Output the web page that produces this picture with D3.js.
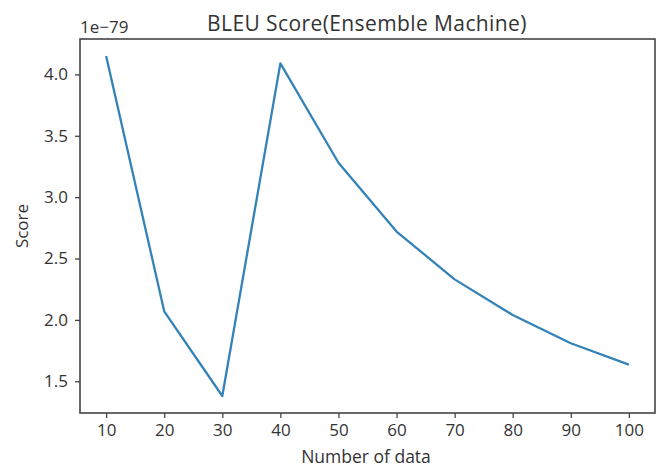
<!DOCTYPE html>
<html>
<head>
<meta charset="utf-8">
<script src="https://cdn.jsdelivr.net/npm/d3@7"></script>
<style>
  body { margin: 0; background: #fff; }
  text { font-family: "Open Sans", "Noto Sans", sans-serif; fill: #333; }
</style>
</head>
<body>
<div class="chart"></div>
<script>
var numData = [10, 20, 30, 40, 50, 60, 70, 80, 90, 100];
var scores = [4.15, 2.07, 1.38, 4.09, 3.28, 2.72, 2.33, 2.04, 1.81, 1.635]; // x 1e-79
var xTicks = [10, 20, 30, 40, 50, 60, 70, 80, 90, 100];
var yTicks = [1.5, 2.0, 2.5, 3.0, 3.5, 4.0];

var width = 661, height = 468;
var margin = { "top": 39, "bottom": 55, "right": 6, "left": 80 };

var svg = d3.select("div.chart").append("svg").attr("width", width).attr("height", height);

// matplotlib style 5% margins
var xPad = (d3.max(numData) - d3.min(numData)) * 0.05;
var yPad = (d3.max(scores) - d3.min(scores)) * 0.05;

var xScale = d3.scaleLinear()
  .domain([d3.min(numData) - xPad, d3.max(numData) + xPad])
  .range([margin.left, width - margin.right]);

var yScale = d3.scaleLinear()
  .domain([d3.min(scores) - yPad, d3.max(scores) + yPad])
  .range([height - margin.bottom, margin.top]);

var axisx = d3.axisBottom(xScale).tickValues(xTicks).tickSize(5).tickPadding(6).tickFormat(d3.format("d"));
var axisy = d3.axisLeft(yScale).tickValues(yTicks).tickSize(5).tickPadding(7).tickFormat(d3.format(".1f"));

var gx = svg.append("g")
  .attr("transform", "translate(0," + (height - margin.bottom) + ")")
  .call(axisx);
gx.select(".domain").remove();

var gy = svg.append("g")
  .attr("transform", "translate(" + margin.left + ",0)")
  .call(axisy);
gy.select(".domain").remove();

svg.selectAll(".tick line").attr("stroke", "#444").attr("stroke-width", 1.3);
svg.selectAll(".tick text").attr("font-size", "17px").attr("fill", "#333")
  .style("font-family", "'Open Sans', 'Noto Sans', sans-serif");

// frame
svg.append("rect")
  .attr("x", margin.left)
  .attr("y", margin.top)
  .attr("width", width - margin.left - margin.right)
  .attr("height", height - margin.top - margin.bottom)
  .attr("fill", "none")
  .attr("stroke", "#444")
  .attr("stroke-width", 1.6);

// line
svg.append("path")
  .datum(d3.zip(numData, scores))
  .attr("fill", "none")
  .attr("stroke", "#3483b8")
  .attr("stroke-width", 2.3)
  .attr("stroke-linejoin", "round")
  .attr("d", d3.line()
    .x(function(d) { return xScale(d[0]); })
    .y(function(d) { return yScale(d[1]); }));

// labels
svg.append("text")
  .attr("x", 367)
  .attr("y", 31)
  .attr("text-anchor", "middle")
  .attr("font-size", "21px")
  .attr("letter-spacing", "0.4px")
  .text("BLEU Score(Ensemble Machine)");

svg.append("text")
  .attr("x", margin.left)
  .attr("y", 33)
  .attr("font-size", "17px")
  .text("1e\u221279");

svg.append("text")
  .attr("x", 366)
  .attr("y", 463)
  .attr("text-anchor", "middle")
  .attr("font-size", "17.5px")
  .text("Number of data");

svg.append("text")
  .attr("transform", "translate(28," + ((margin.top + height - margin.bottom) / 2) + ") rotate(-90)")
  .attr("text-anchor", "middle")
  .attr("font-size", "17px")
  .text("Score");
</script>
</body>
</html>
